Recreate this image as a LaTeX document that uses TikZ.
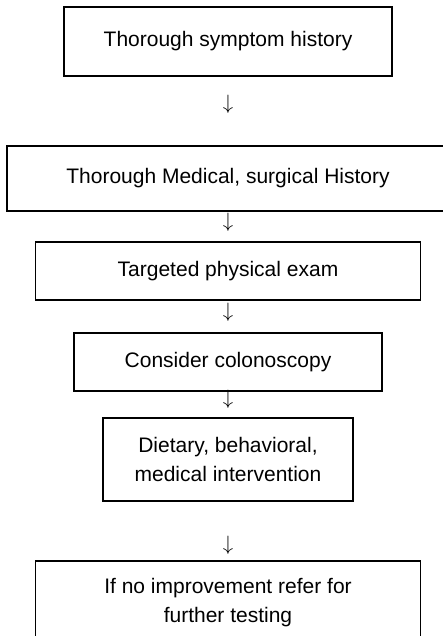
\documentclass[tikz,border=0pt]{standalone}
\usepackage{fontspec}
\setmainfont{Liberation Sans}
\usetikzlibrary{positioning}

\tikzset{
    stepbox/.style={draw, rectangle, align=center, line width=1.3pt, inner sep=0pt},
    downmark/.style={inner sep=0pt, font=\fontsize{22}{29}\selectfont}
}

\begin{document}
\begin{tikzpicture}[node distance=2cm, font=\fontsize{21}{29}\selectfont]
    \useasboundingbox (0,0) rectangle (443pt,-636pt);
    \node (sym) [stepbox, minimum width=328pt, minimum height=69pt] at (228pt,-41.5pt) {Thorough symptom history};
    \node (hist) [stepbox, minimum width=442pt, minimum height=65pt, below of=sym, node distance=137pt] {Thorough Medical, surgical History};
    \node (exam) [stepbox, minimum width=385pt, minimum height=58pt, below of=hist, node distance=92.5pt] {Targeted physical exam};
    \node (colon) [stepbox, minimum width=308pt, minimum height=58pt, below of=exam, node distance=91pt] {Consider colonoscopy};
    \node (diet) [stepbox, minimum width=250pt, minimum height=83pt, below of=colon, node distance=97.5pt] {Dietary, behavioral,\\medical intervention};
    \node (refer) [stepbox, minimum width=385pt, minimum height=83pt, below of=diet, node distance=143pt] {If no improvement refer for\\further testing};

    % arrows between the steps
    \node (a1) [downmark, below of=sym, node distance=62.5pt] {$\downarrow$};
    \node (a2) [downmark, below of=hist, node distance=43.5pt] {$\downarrow$};
    \node (a3) [downmark, below of=exam, node distance=41pt] {$\downarrow$};
    \node (a4) [downmark, below of=colon, node distance=37.5pt] {$\downarrow$};
    \node (a5) [downmark, below of=diet, node distance=86pt] {$\downarrow$};
\end{tikzpicture}
\end{document}
